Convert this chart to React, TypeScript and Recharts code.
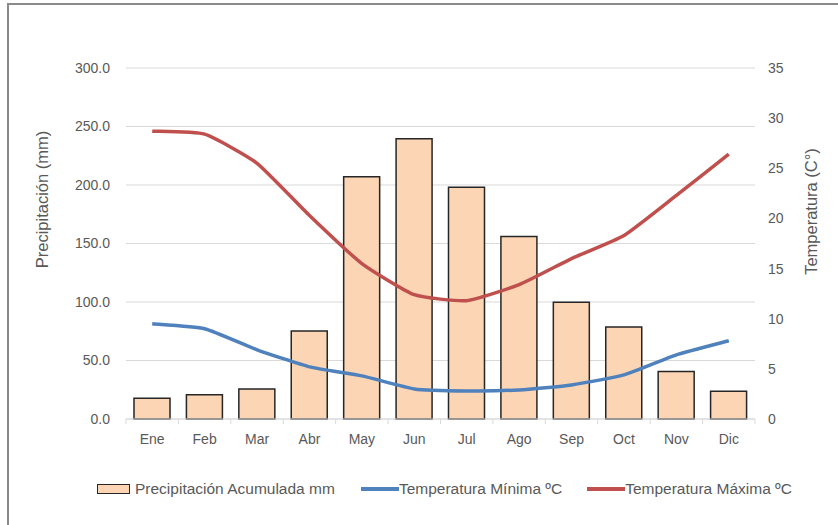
import React from 'react';
import { ComposedChart, Bar, Line, XAxis, YAxis, CartesianGrid, Legend } from 'recharts';

const months = ['Ene', 'Feb', 'Mar', 'Abr', 'May', 'Jun', 'Jul', 'Ago', 'Sep', 'Oct', 'Nov', 'Dic'];
const precip = [17.7, 20.8, 25.6, 75.2, 207, 239.6, 198, 156, 99.7, 78.6, 40.7, 23.7];
const tempMin = [9.5, 9.0, 6.9, 5.2, 4.3, 3.0, 2.8, 2.9, 3.4, 4.4, 6.4, 7.8];
const tempMax = [28.7, 28.4, 25.5, 20.3, 15.5, 12.4, 11.8, 13.4, 16.0, 18.3, 22.3, 26.4];
const precipTicks = [0, 50, 100, 150, 200, 250, 300];
const tempTicks = [0, 5, 10, 15, 20, 25, 30, 35];

const data = months.map((m, i) => ({
  month: m,
  precip: precip[i],
  tmin: tempMin[i],
  tmax: tempMax[i],
}));

const W = 838;
const H = 525;
const LEFT_W = 126;
const RIGHT_W = 83;
const BAND = (W - LEFT_W - RIGHT_W) / months.length;
const FONT = '"Liberation Sans", Arial, sans-serif';
const GREY = '#595959';

// lightly smoothed line through every point (cardinal spline, tension 0.5)
const softSmooth = (context: any) => {
  let pts: number[][] = [];
  const k = 1 / 12;
  return {
    areaStart() {},
    areaEnd() {},
    lineStart() {
      pts = [];
    },
    point(x: number, y: number) {
      pts.push([+x, +y]);
    },
    lineEnd() {
      if (!pts.length) return;
      context.moveTo(pts[0][0], pts[0][1]);
      for (let i = 0; i < pts.length - 1; i++) {
        const p0 = pts[i - 1] || pts[i];
        const p1 = pts[i];
        const p2 = pts[i + 1];
        const p3 = pts[i + 2] || p2;
        context.bezierCurveTo(
          p1[0] + (p2[0] - p0[0]) * k,
          p1[1] + (p2[1] - p0[1]) * k,
          p2[0] - (p3[0] - p1[0]) * k,
          p2[1] - (p3[1] - p1[1]) * k,
          p2[0],
          p2[1]
        );
      }
    },
  };
};

const MonthTick = (props: any) => {
  const { x, y, payload, index } = props;
  return (
    <g>
      <line x1={x - BAND / 2} x2={x - BAND / 2} y1={y} y2={y + 5} stroke="#D9D9D9" />
      {index === months.length - 1 && (
        <line x1={x + BAND / 2} x2={x + BAND / 2} y1={y} y2={y + 5} stroke="#D9D9D9" />
      )}
      <text x={x} y={y + 15} dy="0.71em" textAnchor="middle" fill={GREY} fontSize={14} fontFamily={FONT}>
        {payload.value}
      </text>
    </g>
  );
};

const AxisTitle = ({ viewBox, value, cx, shift }: any) => {
  const cy = viewBox.y + viewBox.height / 2 + shift;
  return (
    <text
      x={cx}
      y={cy}
      transform={`rotate(-90, ${cx}, ${cy})`}
      textAnchor="middle"
      dominantBaseline="central"
      fill={GREY}
      fontSize={16.5}
      fontFamily={FONT}
    >
      {value}
    </text>
  );
};

const LegendBox = () => (
  <div style={{ display: 'flex', alignItems: 'center', fontFamily: FONT, fontSize: 15.5, color: GREY, paddingLeft: 97, whiteSpace: 'nowrap' }}>
    <span style={{ display: 'inline-block', width: 31, height: 8, background: '#FCD5B5', border: '1.5px solid #262626' }} />
    <span style={{ marginLeft: 5 }}>Precipitación Acumulada mm</span>
    <span style={{ display: 'inline-block', width: 38, height: 4, background: '#4F81BD', marginLeft: 26 }} />
    <span>Temperatura Mínima ºC</span>
    <span style={{ display: 'inline-block', width: 38, height: 4, background: '#C0504D', marginLeft: 25 }} />
    <span>Temperatura Máxima ºC</span>
  </div>
);

export default function App() {
  return (
    <div style={{ position: 'absolute', top: 0, left: 0, width: W, height: H, background: '#fff', overflow: 'hidden' }}>
      <div
        style={{
          position: 'absolute',
          left: 7,
          top: 3,
          width: W,
          height: H,
          borderTop: '2px solid #8a8a8a',
          borderLeft: '2px solid #8a8a8a',
        }}
      />
      <ComposedChart width={W} height={H} data={data} margin={{ top: 68, right: 0, bottom: 76, left: 0 }}>
        <CartesianGrid yAxisId="left" vertical={false} stroke="#D9D9D9" />
        <XAxis
          dataKey="month"
          height={30}
          axisLine={{ stroke: '#D9D9D9' }}
          tickLine={false}
          tickSize={0}
          tickMargin={0}
          tick={<MonthTick />}
          interval={0}
        />
        <YAxis
          yAxisId="left"
          width={LEFT_W}
          domain={[0, 300]}
          ticks={precipTicks}
          tickFormatter={(v: number) => v.toFixed(1)}
          axisLine={false}
          tickLine={false}
          tickMargin={10}
          tick={{ fill: GREY, fontSize: 14, fontFamily: FONT }}
          label={<AxisTitle value="Precipitación (mm)" cx={42} shift={-44} />}
        />
        <YAxis
          yAxisId="right"
          orientation="right"
          width={RIGHT_W}
          domain={[0, 35]}
          ticks={tempTicks}
          axisLine={false}
          tickLine={false}
          tickMargin={7}
          tick={{ fill: GREY, fontSize: 14, fontFamily: FONT }}
          label={<AxisTitle value="Temperatura (C°)" cx={811} shift={-32} />}
        />
        <Bar
          yAxisId="left"
          dataKey="precip"
          name="Precipitación Acumulada mm"
          fill="#FCD5B5"
          stroke="#262626"
          strokeWidth={1.5}
          barSize={36}
          isAnimationActive={false}
        />
        <Line
          yAxisId="right"
          type={softSmooth as any}
          dataKey="tmin"
          name="Temperatura Mínima ºC"
          stroke="#4F81BD"
          strokeWidth={3.5}
          dot={false}
          isAnimationActive={false}
        />
        <Line
          yAxisId="right"
          type={softSmooth as any}
          dataKey="tmax"
          name="Temperatura Máxima ºC"
          stroke="#C0504D"
          strokeWidth={3.5}
          dot={false}
          isAnimationActive={false}
        />
        <Legend
          layout="horizontal"
          verticalAlign="middle"
          align="center"
          content={<LegendBox />}
          wrapperStyle={{ top: 480, left: 0, width: W, height: 20 }}
        />
      </ComposedChart>
    </div>
  );
}
